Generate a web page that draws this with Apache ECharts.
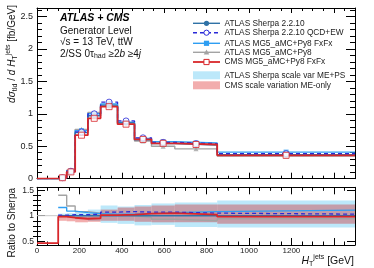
<!DOCTYPE html>
<html><head><meta charset="utf-8">
<script src="https://cdn.jsdelivr.net/npm/echarts@6/dist/echarts.min.js"></script>
<style>html,body{margin:0;padding:0;background:#fff}#c{width:374px;height:268px}</style>
</head><body><div id="c"></div>
<script>
// ---- data ----
const binEdges = [0,100,140,180,240,300,380,460,540,650,850,1500];
const sherpa   = [0,0.015,0.110,0.71,0.97,1.12,0.86,0.600,0.54,0.52,0.370];
const sherpaEW = [0,0.015,0.115,0.72,1.00,1.18,0.89,0.630,0.56,0.54,0.385];
const mgFxFx   = [0,0.017,0.120,0.74,1.00,1.15,0.87,0.620,0.57,0.55,0.410];
const mg5      = [0,0.021,0.130,0.76,1.02,1.14,0.86,0.580,0.50,0.46,0.350];
const cms      = [0,0.015,0.105,0.67,0.93,1.11,0.84,0.605,0.545,0.527,0.360];

const rSherpa   = [null,1,1,1,1,1,1,1,1,1,1];
const rSherpaEW = [null,1.01,1.02,1.02,1.03,1.07,1.08,1.07,1.07,1.05,1.03];
const rFxFx     = [null,1.16,1.09,1.06,1.04,1.03,1.03,1.04,1.06,1.08,1.11];
const rMg5      = [null,1.40,1.19,1.08,1.05,1.02,1.00,0.97,0.93,0.90,0.94];
const rCms      = [0.46,0.98,0.96,0.94,0.95,1.01,1.02,1.04,1.05,1.02,0.98];

const sBandLo = [null,0.97,0.96,0.93,0.90,0.86,0.84,0.81,0.82,0.78,0.77];
const sBandHi = [null,1.04,1.05,1.07,1.12,1.20,1.18,1.21,1.24,1.26,1.30];
const cBandLo = [null,0.90,0.89,0.87,0.88,0.90,0.90,0.88,0.87,0.87,0.84];
const cBandHi = [null,1.00,0.99,0.99,1.03,1.12,1.16,1.18,1.20,1.22,1.22];

const names = ['ATLAS Sherpa 2.2.10','ATLAS Sherpa 2.2.10 QCD+EW','ATLAS MG5_aMC+Py8 FxFx','ATLAS MG5_aMC+Py8','CMS MG5_aMC+Py8 FxFx','ATLAS Sherpa scale var ME+PS','CMS scale variation ME-only'];
const xTicks = [0,200,400,600,800,1000,1200,1400];
const yTicksRatio = [0.5,1,1.5];

// ---- helpers ----
const FONT = 'Liberation Sans, Arial, Helvetica, sans-serif';
const C = {sh:'#2f72a6', ew:'#2a2ad8', fx:'#2e9ef2', mg:'#a3a3a3', cms:'#d8262a', sb:'#bce8fa', cb:'rgba(215,0,0,0.32)'};
function step(vals){ return binEdges.map((e,i)=>[e, vals[Math.min(i, vals.length-1)]]); }
function centers(vals){ const out=[]; for(let i=0;i<vals.length;i++){ if(vals[i]!==null && vals[i]>0) out.push([(binEdges[i]+binEdges[i+1])/2, vals[i]]);} return out; }
function band(lo,hi){ const out=[]; for(let i=0;i<lo.length;i++){ if(lo[i]!==null) out.push([binEdges[i],binEdges[i+1],lo[i],hi[i]]);} return out; }
function bandRender(color){
  return function(params, api){
    const p1 = api.coord([api.value(0), api.value(3)]);
    const p2 = api.coord([api.value(1), api.value(2)]);
    return {type:'rect', shape:{x:p1[0], y:p1[1], width:p2[0]-p1[0], height:p2[1]-p1[1]}, style:{fill:color}};
  };
}
function lineSeries(data, color, width, type, xi, yi, z){
  return {type:'line', step:'end', data: step(data), xAxisIndex:xi, yAxisIndex:yi, symbol:'none', z:z,
    lineStyle:{color:color, width:width, type:type||'solid'}, silent:true, animation:false, connectNulls:false};
}
function markerSeries(data, sym, size, itemStyle, z){
  return {type:'scatter', data: centers(data), xAxisIndex:0, yAxisIndex:0, symbol:sym, symbolSize:size, itemStyle:itemStyle, z:z, animation:false, silent:true};
}

const xCommon = {type:'value', min:0, max:1500, interval:200, splitLine:{show:false},
  axisLine:{show:true, onZero:false, lineStyle:{color:'#000', width:1}},
  axisTick:{inside:true, length:6, lineStyle:{color:'#000'}},
  minorTick:{show:true, splitNumber:4, length:3, lineStyle:{color:'#000'}},
  axisLabel:{show:false}};
const yMain = {type:'value', min:0, max:2.63, interval:0.5, splitLine:{show:false},
  axisLine:{show:true, onZero:false, lineStyle:{color:'#000'}},
  axisTick:{inside:true, length:10, lineStyle:{color:'#000'}},
  minorTick:{show:true, splitNumber:5, length:5, lineStyle:{color:'#000'}},
  axisLabel:{show:false}};
const yR = {type:'value', min:0.425, max:1.557, splitLine:{show:false},
  axisLine:{show:true, onZero:false, lineStyle:{color:'#000'}},
  axisTick:{inside:true, length:8, customValues:yTicksRatio, lineStyle:{color:'#000'}},
  axisLabel:{show:false}};
const yRminor = {type:'value', min:0.425, max:1.557, gridIndex:1, splitLine:{show:false},
  axisLine:{show:false}, axisTick:{inside:true, length:4, customValues:[0.6,0.7,0.8,0.9,1.1,1.2,1.3,1.4], lineStyle:{color:'#000'}},
  axisLabel:{show:false}};

const open = c => ({color:'#fff', borderColor:c, borderWidth:1});
const fill = c => ({color:c});

// ---- legend (drawn as graphic) ----
const legX = 193, legW = 27, legTextX = 224.5;
const legRows = [23.3, 32.7, 43.3, 52.3, 62, 75.3, 85.3];
const legSpec = [
  {c:C.sh, dash:null, sym:'circle', filled:true},
  {c:C.ew, dash:[4,3], sym:'circle', filled:false},
  {c:C.fx, dash:null, sym:'rect', filled:true},
  {c:C.mg, dash:null, sym:'tri', filled:true},
  {c:C.cms, dash:null, sym:'rect', filled:false},
  {band:C.sb},
  {band:C.cb}
];
const legendGraphics = [];
legSpec.forEach((s, i) => {
  const y = legRows[i];
  if (s.band) {
    legendGraphics.push({type:'rect', shape:{x:legX, y:y-4, width:legW, height:8}, style:{fill:s.band}, z:100});
  } else {
    legendGraphics.push({type:'line', shape:{x1:legX, y1:y, x2:legX+legW, y2:y}, style:{stroke:s.c, lineWidth: i===4?1.8:1.4, lineDash:s.dash||null}, z:100});
    const cx = legX + legW/2;
    const st = s.filled ? {fill:s.c} : {fill:'#fff', stroke:s.c, lineWidth:1};
    if (s.sym === 'circle') legendGraphics.push({type:'circle', shape:{cx:cx, cy:y, r:2.6}, style:st, z:101});
    else if (s.sym === 'rect') legendGraphics.push({type:'rect', shape:{x:cx-2.6, y:y-2.6, width:5.2, height:5.2}, style:st, z:101});
    else legendGraphics.push({type:'polygon', shape:{points:[[cx,y-2.8],[cx+2.8,y+2.2],[cx-2.8,y+2.2]]}, style:st, z:101});
  }
  legendGraphics.push({type:'text', x:legTextX, y:y, style:{text:names[i], font:'8.3px '+FONT, fill:'#222', verticalAlign:'middle', align:'left'}, z:100});
});

const option = {
  animation:false,
  textStyle:{fontFamily:FONT},
  grid:[{left:37, top:8, width:318, height:170.7}, {left:37, top:187.3, width:318, height:57.7}],
  xAxis:[
    Object.assign({}, xCommon, {gridIndex:0, position:'bottom'}),
    Object.assign({}, xCommon, {gridIndex:0, position:'top', axisTick:{inside:true,length:5,lineStyle:{color:'#000'}}}),
    Object.assign({}, xCommon, {gridIndex:1, position:'bottom', axisTick:{inside:true,length:7,lineStyle:{color:'#000'}}, minorTick:{show:true,splitNumber:4,length:3.5,lineStyle:{color:'#000'}},
      axisLabel:{show:true, fontSize:8, color:'#222', margin:2, showMaxLabel:false, customValues:xTicks, formatter:v=>String(v)}}),
    Object.assign({}, xCommon, {gridIndex:1, position:'top', axisTick:{inside:true,length:7,lineStyle:{color:'#000'}}, minorTick:{show:true,splitNumber:4,length:3.5,lineStyle:{color:'#000'}}})
  ],
  yAxis:[
    Object.assign({}, yMain, {gridIndex:0, position:'left', axisLabel:{show:true, fontSize:9, color:'#222', margin:4, showMaxLabel:false}}),
    Object.assign({}, yMain, {gridIndex:0, position:'right', axisTick:{inside:true,length:9,lineStyle:{color:'#000'}}}),
    Object.assign({}, yR, {gridIndex:1, position:'left', axisLabel:{show:true, fontSize:8.5, color:'#222', margin:3, customValues:yTicksRatio, formatter:v=>String(v)}}),
    Object.assign({}, yR, {gridIndex:1, position:'right'}),
    Object.assign({}, yRminor, {position:'left'}),
    Object.assign({}, yRminor, {position:'right'})
  ],
  series:[
    {type:'custom', xAxisIndex:2, yAxisIndex:2, data:band(sBandLo,sBandHi), renderItem:bandRender(C.sb), encode:{x:[0,1], y:[2,3]}, z:1, silent:true},
    {type:'custom', xAxisIndex:2, yAxisIndex:2, data:band(cBandLo,cBandHi), renderItem:bandRender(C.cb), encode:{x:[0,1], y:[2,3]}, z:2, silent:true},
    {type:'line', xAxisIndex:2, yAxisIndex:2, data:[[0,1],[1500,1]], symbol:'none', lineStyle:{color:'#c8c8c8', width:1}, z:3, silent:true},
    lineSeries(mg5, C.mg, 1.4, null, 0, 0, 4),
    lineSeries(mgFxFx, C.fx, 1.4, null, 0, 0, 5),
    lineSeries(sherpa, C.sh, 1.4, null, 0, 0, 6),
    lineSeries(sherpaEW, C.ew, 1.3, [4,3], 0, 0, 7),
    lineSeries(cms, C.cms, 1.8, null, 0, 0, 8),
    markerSeries(mg5, 'triangle', 5, fill(C.mg), 9),
    markerSeries(mgFxFx, 'rect', 5, fill(C.fx), 9),
    markerSeries(sherpa, 'circle', 5, fill(C.sh), 10),
    markerSeries(sherpaEW, 'circle', 6, open(C.ew), 11),
    markerSeries(cms, 'rect', 6, open(C.cms), 12),
    lineSeries(rMg5, C.mg, 1.4, null, 2, 2, 4),
    lineSeries(rFxFx, C.fx, 1.4, null, 2, 2, 5),
    lineSeries(rSherpa, C.sh, 1.4, null, 2, 2, 6),
    lineSeries(rSherpaEW, C.ew, 1.3, [4,3], 2, 2, 7),
    lineSeries(rCms, C.cms, 1.8, null, 2, 2, 8)
  ],
  graphic: legendGraphics.concat([
    {type:'text', left:60, top:13, style:{text:'ATLAS + CMS', font:'italic bold 10.5px '+FONT, fill:'#000'}},
    {type:'text', left:60, top:26, style:{text:'Generator Level', font:'10px '+FONT, fill:'#111'}},
    {type:'text', left:60, top:37.5, style:{text:'\u221As = 13 TeV, ttW', font:'10px '+FONT, fill:'#111'}},
    {type:'text', left:60, top:49, style:{rich:{n:{fontSize:10, fontFamily:FONT, fill:'#111'}, i:{fontSize:10, fontFamily:FONT, fontStyle:'italic', fill:'#111'}, sub:{fontSize:7, fontFamily:FONT, fill:'#111', padding:[5,0,0,0]}},
      text:'{n|2/SS 0\u03C4}{sub|had}{n| \u22652}{i|b}{n| \u22654}{i|j}'}},
    {type:'text', x:12, y:5, rotation:Math.PI/2, style:{align:'right', verticalAlign:'middle',
      rich:{n:{fontSize:10, fontFamily:FONT, fill:'#111'}, i:{fontSize:10, fontFamily:FONT, fontStyle:'italic', fill:'#111'}, sub:{fontSize:7, fontFamily:FONT, fill:'#111', padding:[6,0,0,0]}, sup:{fontSize:7, fontFamily:FONT, fill:'#111', padding:[0,0,7,0]}},
      text:'{i|d\u03C3}{sub|tId}{n| / }{i|d H}{sub|T}{sup|jets}{n| [fb/GeV]}'}},
    {type:'text', x:12, y:188, rotation:Math.PI/2, style:{align:'right', verticalAlign:'middle', text:'Ratio to Sherpa', font:'10px '+FONT, fill:'#111'}},
    {type:'text', x:354, y:261, style:{align:'right', verticalAlign:'middle',
      rich:{n:{fontSize:10.5, fontFamily:FONT, fill:'#111'}, i:{fontSize:10.5, fontFamily:FONT, fontStyle:'italic', fill:'#111'}, sub:{fontSize:7, fontFamily:FONT, fill:'#111', padding:[6,0,0,0]}, sup:{fontSize:7, fontFamily:FONT, fill:'#111', padding:[0,0,7,0]}},
      text:'{i|H}{sub|T}{sup|jets}{n| [GeV]}'}}
  ])
};
const chart = echarts.init(document.getElementById('c'), null, {renderer:'canvas'});
chart.setOption(option);
</script></body></html>
